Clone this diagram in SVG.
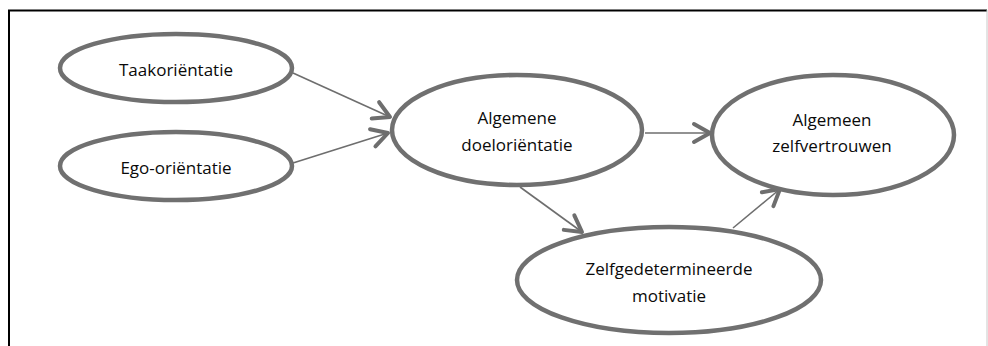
<svg xmlns="http://www.w3.org/2000/svg" width="988" height="346" viewBox="0 0 988 346">
  <style>
    .node ellipse { fill: #ffffff; stroke: #707070; stroke-width: 4.5; }
    .node text { font-family: "Open Sans", "Liberation Sans", Arial, sans-serif; font-size: 17px; fill: #0a0a0a; text-anchor: middle; }
    .edge { fill: none; stroke: #6e6e6e; stroke-width: 1.6; marker-end: url(#chevron); }
  </style>
  <defs>
    <marker id="chevron" markerUnits="userSpaceOnUse" markerWidth="30" markerHeight="30" viewBox="-20 -15 30 30" refX="0" refY="0" orient="auto" overflow="visible">
      <path d="M-16,-9 L0,0 L-16,9" fill="none" stroke="#6e6e6e" stroke-width="4" stroke-linecap="round" stroke-linejoin="round"/>
    </marker>
  </defs>

  <rect width="988" height="346" fill="#ffffff"/>
  <!-- frame -->
  <line x1="8" y1="10.5" x2="987" y2="10.5" stroke="#000000" stroke-width="2"/>
  <line x1="9" y1="10" x2="9" y2="346" stroke="#000000" stroke-width="2"/>
  <line x1="987" y1="10" x2="987" y2="346" stroke="#c8c8c8" stroke-width="1"/>

  <g id="connectors">
    <line class="edge" x1="293" y1="73" x2="390" y2="117"/>
    <line class="edge" x1="293" y1="163" x2="388" y2="133"/>
    <line class="edge" x1="520" y1="187" x2="582" y2="232"/>
    <line class="edge" x1="645" y1="133" x2="710" y2="133"/>
    <line class="edge" x1="733" y1="228" x2="780" y2="189"/>
  </g>

  <g id="taakorientatie" class="node">
    <ellipse cx="176" cy="68" rx="116" ry="34"/>
    <text x="176" y="76">Taakoriëntatie</text>
  </g>
  <g id="ego-orientatie" class="node">
    <ellipse cx="176" cy="166" rx="116" ry="34"/>
    <text x="176" y="174">Ego-oriëntatie</text>
  </g>
  <g id="algemene-doelorientatie" class="node">
    <ellipse cx="517" cy="130" rx="125" ry="55"/>
    <text x="517" y="124">Algemene</text>
    <text x="517" y="151">doeloriëntatie</text>
  </g>
  <g id="zelfgedetermineerde-motivatie" class="node">
    <ellipse cx="669" cy="280" rx="152" ry="53"/>
    <text x="669" y="275">Zelfgedetermineerde</text>
    <text x="669" y="302">motivatie</text>
  </g>
  <g id="algemeen-zelfvertrouwen" class="node">
    <ellipse cx="833" cy="135" rx="121" ry="60"/>
    <text x="832" y="126">Algemeen</text>
    <text x="832" y="152">zelfvertrouwen</text>
  </g>
</svg>
